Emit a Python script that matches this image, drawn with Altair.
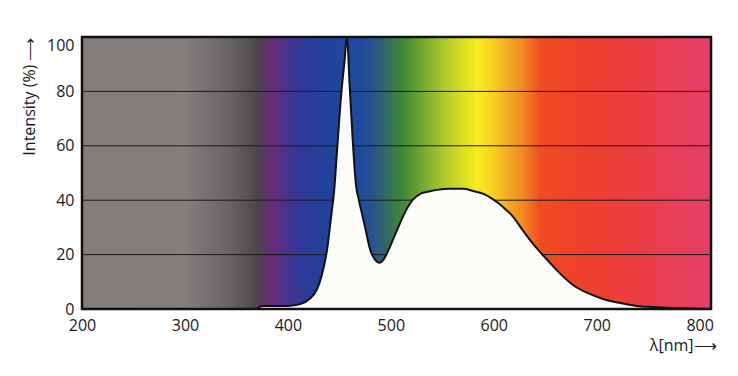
import altair as alt
import pandas as pd

# LED emission spectrum (wavelength nm -> relative intensity %)
wavelength = [370, 373, 376, 385, 395, 402, 412, 421, 428, 433, 438, 442, 445, 448, 452, 455,
              457.4, 460, 463, 466, 469, 472, 475, 480, 485, 488.5, 491, 494, 499, 506, 514,
              521, 530, 538, 545, 557, 570, 580, 590, 599, 609, 619, 628, 638, 652, 664, 677,
              691, 706, 723, 739, 755, 771, 790, 811]
intensity = [0, 0.9, 1.1, 1.1, 1.1, 1.2, 1.8, 3.7, 7, 12.5, 21.7, 34, 43.8, 59.6, 79.8, 91,
             100, 82, 62, 46, 40, 35, 30, 21.7, 18, 17, 17.3, 18.8, 22.8, 29, 35.7,
             40, 42.6, 43.3, 43.8, 44.2, 44.2, 43.4, 42.3, 40.4, 37.5, 33.8, 29, 24, 18, 13.2, 8.8,
             5.9, 3.7, 2.2, 1.1, 0.7, 0.4, 0.2, 0]

# spectrum background colour stops (nm, colour)
stop_nm = [200, 285, 300, 315, 340, 360, 370, 378, 386, 400, 415, 440, 470, 485, 498, 512,
           530, 548, 568, 584, 600, 615, 628, 645, 680, 740, 811]
stop_color = ["#847e7d", "#837d7c", "#857f7e", "#7a7474", "#6b6667", "#575354", "#4b4748",
              "#5a3466", "#6a2c7c", "#443390", "#2e3a98", "#21429c", "#1e4aa0", "#2a5588",
              "#356e5c", "#3f8a35", "#72a530", "#a5c42d", "#d5dc24", "#f9ec1f", "#f6cf1f",
              "#f2a922", "#f08a24", "#ef4d22", "#ef4129", "#ec3d44", "#e53f6a"]

x_ticks = [200, 300, 400, 500, 600, 700, 800]
y_ticks = [0, 20, 40, 60, 80, 100]
grid_vals = [20, 40, 60, 80]
x_min, x_max = 200, 811
y_min, y_max = 0, 100

FONT = "Open Sans"

spec = pd.DataFrame({"nm": wavelength, "val": intensity})
frame = pd.DataFrame({"x0": [x_min], "x1": [x_max], "y0": [y_min], "y1": [y_max]})
grid_df = pd.DataFrame({"g": grid_vals})

xscale = alt.Scale(domain=[x_min, x_max], nice=False, zero=False)
yscale = alt.Scale(domain=[y_min, y_max], nice=False)

span = x_max - x_min
gradient = alt.Gradient(
    gradient="linear",
    stops=[alt.GradientStop(offset=(n - x_min) / span, color=c) for n, c in zip(stop_nm, stop_color)],
    x1=0, x2=1, y1=0, y2=0,
)

xaxis = alt.Axis(values=x_ticks, title="λ[nm]⟶", domain=False, ticks=False, grid=False,
                 labelFlush=False,
                 labelFont=FONT, labelFontSize=16, labelColor="#1a1a1a", labelPadding=8,
                 titleFont=FONT, titleFontSize=16, titleFontWeight="normal", titleColor="#1a1a1a",
                 titleX=634, titleY=36, titleAlign="right", titleBaseline="middle")
yaxis = alt.Axis(values=y_ticks, title="Intensity (%) ⟶", domain=False, ticks=False, grid=False,
                 labelFlush=False,
                 labelFont=FONT, labelFontSize=16, labelColor="#1a1a1a", labelPadding=8,
                 labelBaseline={"condition": {"test": "datum.value == 100", "value": "top"}, "value": "middle"},
                 titleFont=FONT, titleFontSize=16, titleFontWeight="normal", titleColor="#1a1a1a",
                 titleX=-53, titleY=0, titleAlign="right", titleBaseline="middle", titleAngle=-90)

bg = alt.Chart(frame).mark_rect(fill=gradient, stroke=None).encode(
    x=alt.X("x0:Q", scale=xscale, axis=xaxis),
    x2="x1:Q",
    y=alt.Y("y0:Q", scale=yscale, axis=yaxis),
    y2="y1:Q",
)

grid = alt.Chart(grid_df).mark_rule(color="#1a1a1a", strokeWidth=1).encode(
    y=alt.Y("g:Q", scale=yscale, axis=yaxis),
)

area = alt.Chart(spec).mark_area(color="#fcfdf9", interpolate="monotone").encode(
    x=alt.X("nm:Q", scale=xscale, axis=xaxis),
    y=alt.Y("val:Q", scale=yscale, axis=yaxis),
)

line = alt.Chart(spec).mark_line(color="#111111", strokeWidth=2, interpolate="monotone").encode(
    x=alt.X("nm:Q", scale=xscale, axis=xaxis),
    y=alt.Y("val:Q", scale=yscale, axis=yaxis),
)

border = alt.Chart(frame).mark_rect(fill=None, stroke="#111111", strokeWidth=2.5).encode(
    x=alt.X("x0:Q", scale=xscale, axis=xaxis),
    x2="x1:Q",
    y=alt.Y("y0:Q", scale=yscale, axis=yaxis),
    y2="y1:Q",
)

chart = alt.layer(bg, grid, area, line, border).properties(
    width=629, height=272,
    autosize=alt.AutoSizeParams(type="none"),
    padding={"left": 82, "top": 37, "right": 27, "bottom": 67},
    background="white",
).configure_view(stroke=None)

chart.save("out.html", embed_options={"renderer": "svg", "actions": False})
